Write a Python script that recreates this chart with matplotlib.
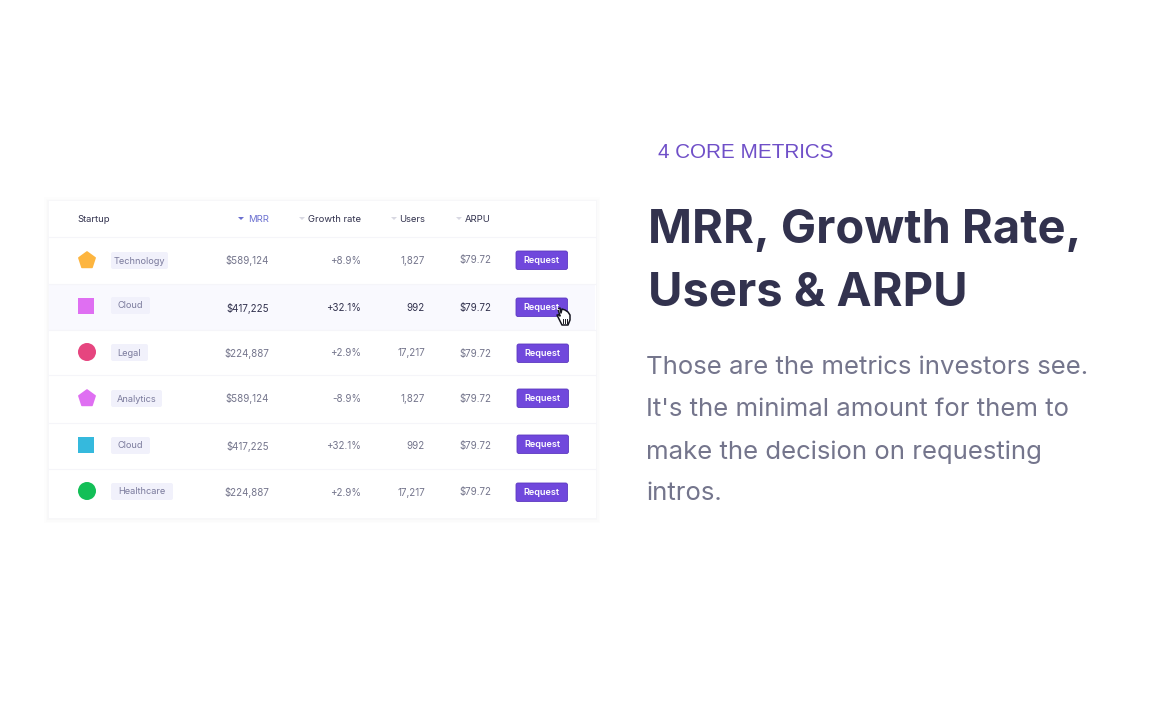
import math

import matplotlib.pyplot as plt
from matplotlib.patches import Circle, FancyBboxPatch, Polygon, Rectangle, RegularPolygon

plt.rcParams["font.family"] = ["Inter", "DejaVu Sans"]

# table contents
headers = ["Startup", "MRR", "Growth rate", "Users", "ARPU"]
categories = ["Technology", "Cloud", "Legal", "Analytics", "Cloud", "Healthcare"]
mrr = ["$589,124", "$417,225", "$224,887", "$589,124", "$417,225", "$224,887"]
growth = ["+8.9%", "+32.1%", "+2.9%", "-8.9%", "+32.1%", "+2.9%"]
users = ["1,827", "992", "17,217", "1,827", "992", "17,217"]
arpu = ["$79.72"] * 6
button_label = "Request"

eyebrow = "4 CORE METRICS"
title_lines = ["MRR, Growth Rate,", "Users & ARPU"]
body_lines = [
    "Those are the metrics investors see.",
    "It's the minimal amount for them to",
    "make the decision on requesting",
    "intros.",
]

# layout, in pixels of the 1172x720 picture
row_lines = [237, 284, 330, 375, 423, 469]
text_y = [260.5, 308, 353.5, 399, 446, 492.5]
tag_y = [252, 297, 344, 390, 437, 483]
tag_w = [57, 39, 37, 51, 39, 62]
btn_x = [516, 516, 517, 517, 517, 516]
btn_y = [251, 298, 344, 389, 435, 483]
icon_y = [260, 306, 352, 398, 445, 491]
icon_kind = ["pent", "square", "circle", "pent", "square", "circle"]
icon_color = ["#fdb53f", "#df6ff2", "#e6457f", "#df6ff2", "#35b9dd", "#13bf57"]
head_right = [None, 269, 361, 425, 491]
caret_x = [None, 241, 302, 394, 459]
caret_color = [None, "#6a6fd0", "#d8d8e2", "#d8d8e2", "#d8d8e2"]

INK = "#32324e"
MUTED = "#74758c"
PURPLE = "#7048dc"

fig = plt.figure(figsize=(11.72, 7.2), dpi=100, facecolor="white")
ax = fig.add_axes([0, 0, 1, 1])
ax.set_xlim(0, 1172)
ax.set_ylim(720, 0)
ax.axis("off")

# card with soft shadow
for grow, alpha in [(4, 0.006), (2.5, 0.008), (1, 0.012)]:
    ax.add_patch(Rectangle((48 - grow, 200 - grow + 1), 548 + 2 * grow, 318 + 2 * grow,
                           fc="#30304f", ec="none", alpha=alpha))
ax.add_patch(Rectangle((48, 200), 548, 318, fc="white", ec="#f7f7f9", lw=0.6))
ax.add_patch(Rectangle((49, 284), 546, 46, fc="#f9f9fe", ec="none"))
for y in row_lines:
    ax.plot([49, 595], [y, y], color="#f5f5f9", lw=0.8)

# header row
for i, name in enumerate(headers):
    color = "#6a6fd0" if name == "MRR" else INK
    if i == 0:
        ax.text(77.5, 219, name, color=color, fontsize=6.8, ha="left", va="center")
    else:
        ax.text(head_right[i], 219, name, color=color, fontsize=6.8, ha="right", va="center")
        cx = caret_x[i]
        ax.add_patch(Polygon([(cx - 3, 217), (cx + 3, 217), (cx, 220)], fc=caret_color[i], ec="none"))

# rows
for i, cat in enumerate(categories):
    y = text_y[i]
    hot = i == 1
    val_color = INK if hot else MUTED

    if icon_kind[i] == "pent":
        ax.add_patch(RegularPolygon((87, icon_y[i] + 0.5), 5, radius=8.5, orientation=math.pi, fc=icon_color[i],
                                    ec=icon_color[i], lw=1.2, joinstyle="round"))
    elif icon_kind[i] == "square":
        ax.add_patch(Rectangle((78, icon_y[i] - 8), 16, 16, fc=icon_color[i], ec="none"))
    else:
        ax.add_patch(Circle((87, icon_y[i]), 9, fc=icon_color[i], ec="none"))

    ax.add_patch(FancyBboxPatch((112, tag_y[i] + 1), tag_w[i] - 2, 15, boxstyle="round,pad=1,rounding_size=2",
                                fc="#f1f1fb", ec="none"))
    ax.text(111 + tag_w[i] / 2, tag_y[i] + 9, cat, color="#7a7a9c", fontsize=6.6, ha="center", va="center")

    ax.text(269, y, mrr[i], color=val_color, fontsize=7, ha="right", va="center")
    ax.text(361, y, growth[i], color=val_color, fontsize=7, ha="right", va="center")
    ax.text(425, y, users[i], color=val_color, fontsize=7, ha="right", va="center")
    ax.text(491, y, arpu[i], color=val_color, fontsize=7, ha="right", va="center")

    ax.add_patch(FancyBboxPatch((btn_x[i] + 2, btn_y[i] + 2), 47.5, 14.5, boxstyle="round,pad=2,rounding_size=2",
                                fc=PURPLE, ec="#5b38c0", lw=0.6))
    ax.text(btn_x[i] + 25.5, btn_y[i] + 9.5, button_label, color="white", fontsize=6.6, fontweight="semibold",
            ha="center", va="center")

# hand cursor over the second button
hand = [(558, 309), (560, 308), (561, 313), (562, 309), (565, 310), (568, 312), (570, 315), (570, 320),
        (568, 325), (562, 325), (560, 321), (557, 315), (559, 315), (560, 316)]
ax.add_patch(Polygon(hand, fc="white", ec="#15151f", lw=1.1, joinstyle="round"))
for x in [563, 565, 567]:
    ax.plot([x, x], [319, 323], color="#15151f", lw=0.7)

# right column
ax.text(658, 152, eyebrow, color="#6f4fc8", fontsize=14.9, family="Liberation Sans", ha="left", va="center")
ax.text(648, 231, title_lines[0], color=INK, fontsize=33.9, fontweight="bold", ha="left", va="center")
ax.text(648, 293, title_lines[1], color=INK, fontsize=33.9, fontweight="bold", ha="left", va="center")
for y, line in zip([368, 410, 452, 494], body_lines):
    ax.text(646, y, line, color=MUTED, fontsize=18.55, ha="left", va="center")

fig.savefig("out.png", dpi=100)
plt.close(fig)
